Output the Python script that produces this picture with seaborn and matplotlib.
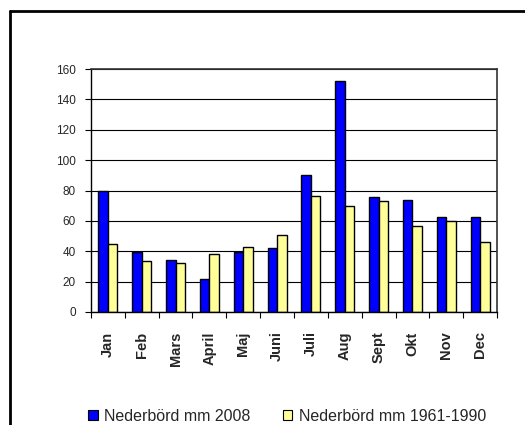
import matplotlib
matplotlib.use("Agg")
import matplotlib.pyplot as plt
import matplotlib.patches as mpatches
from matplotlib.lines import Line2D
import seaborn as sns
import pandas as pd
import numpy as np

months = ["Jan", "Feb", "Mars", "April", "Maj", "Juni",
          "Juli", "Aug", "Sept", "Okt", "Nov", "Dec"]
rain_2008 = [80, 39.5, 34, 22, 39.5, 42, 90.5, 152, 75.5, 74, 62.5, 62.5]
rain_normal = [45, 33.5, 32.5, 38, 43, 51, 76.5, 69.5, 73, 56.5, 60, 46]
series_names = ["Nederbörd mm 2008", "Nederbörd mm 1961-1990"]
colors = ["#0000FF", "#FFFF99"]

df = pd.DataFrame({
    "Månad": months * 2,
    "mm": rain_2008 + rain_normal,
    "Serie": [series_names[0]] * 12 + [series_names[1]] * 12,
})

sns.set_theme(style="white")
plt.rcParams["font.family"] = ["Liberation Sans", "DejaVu Sans"]

fig = plt.figure(figsize=(5.25, 4.25), dpi=100)
ax = fig.add_axes([0.1733, 0.2659, 0.7734, 0.5717])

sns.barplot(data=df, x="Månad", y="mm", hue="Serie", order=months,
            hue_order=series_names, palette=colors, width=0.56,
            edgecolor="black", linewidth=1.0, saturation=1, ax=ax,
            legend=False)

ax.set_xlim(-0.5, 11.5)
ax.set_ylim(0, 160)
ax.set_yticks(np.arange(0, 161, 20))
ax.yaxis.grid(True, color="black", linewidth=0.8)
ax.set_axisbelow(True)
ax.set_xlabel("")
ax.set_ylabel("")

for side in ["left", "bottom"]:
    ax.spines[side].set_color("black")
    ax.spines[side].set_linewidth(1.0)
for side in ["top", "right"]:
    ax.spines[side].set_color("#333333")
    ax.spines[side].set_linewidth(1.2)

ax.tick_params(axis="y", which="major", left=True, length=4, width=0.8,
               color="black", labelsize=8.5, pad=7)
ax.set_xticks(range(12))
ax.set_xticklabels(months, rotation=90, fontsize=10.5, fontweight="bold")
ax.tick_params(axis="x", which="major", bottom=False, length=0, pad=14)
ax.set_xticks(np.arange(-0.5, 12, 1), minor=True)
ax.tick_params(axis="x", which="minor", bottom=True, length=4, width=0.8,
               color="black", direction="out")

# outer chart frame (left and top edges)
fig.add_artist(Line2D([10 / 525, 10 / 525], [0, 1 - 11 / 425],
                      transform=fig.transFigure, color="black", linewidth=2))
fig.add_artist(Line2D([10 / 525, 1], [1 - 11 / 425, 1 - 11 / 425],
                      transform=fig.transFigure, color="black", linewidth=2))

handles = [mpatches.Patch(facecolor=c, edgecolor="black", linewidth=0.8)
           for c in colors]
fig.legend(handles, series_names, loc="center", ncol=2,
           bbox_to_anchor=(0.547, 0.021), frameon=False, fontsize=11.5,
           handlelength=0.6, handleheight=0.6, handletextpad=0.4,
           columnspacing=2.0, borderpad=0)

fig.savefig("out.png", dpi=100)
